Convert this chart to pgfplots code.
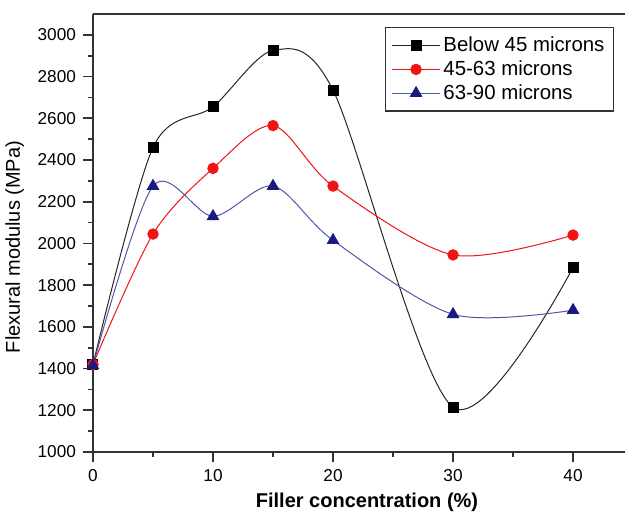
\documentclass[border=0pt]{standalone}
\usepackage{pgfplots}
\pgfplotsset{compat=1.18}
\usepackage{fontspec}
\setmainfont{Liberation Sans}
\definecolor{navy}{RGB}{25,25,130}
\definecolor{navyline}{RGB}{85,85,165}
\definecolor{myred}{RGB}{240,20,20}
\begin{document}
\begin{tikzpicture}
\begin{axis}[
  scale only axis, width=266pt, height=219pt,
  xmin=0, xmax=44.33, ymin=1000, ymax=3100,
  axis x line*=box, axis y line*=left,
  axis line style={line width=1pt, draw=black!80},
  xtick={0,10,...,40}, minor xtick={5,15,25,35},
  ytick={1000,1200,...,3000}, minor ytick={1100,1300,...,2900},
  tick align=outside, xtick pos=bottom, ytick pos=left,
  major tick length=5pt, minor tick length=2.5pt,
  every tick/.style={line width=0.8pt, black!80},
  /pgf/number format/assume math mode=true,
  /pgf/number format/1000 sep={},
  tick label style={font=\fontsize{8.6}{10}\selectfont},
  xlabel={\bfseries Filler concentration (\%)},
  xlabel style={font=\fontsize{10}{11}\selectfont, yshift=1pt, xshift=4pt},
  ylabel={Flexural modulus (MPa)},
  ylabel style={font=\fontsize{10}{11}\selectfont, at={(ticklabel cs:0.468)}},
  legend style={at={(0.549,0.97)}, anchor=north west, draw=black!80, line width=0.6pt,
    font=\fontsize{10.2}{11.5}\selectfont, row sep=-1pt, inner xsep=3pt, inner ysep=2.5pt,
    nodes={inner xsep=1.5pt}},
  legend image code/.code={\draw[mark repeat=2,mark phase=2] plot coordinates {(0cm,0cm) (0.42cm,0cm) (0.84cm,0cm)};},
  legend cell align=left,
]
\addplot[black!85, line width=0.5pt, smooth, mark=square*, mark size=2.5pt,
  mark options={fill=black, draw=black}] coordinates {
  (0,1420) (5,2460) (10,2655) (15,2925) (20,2735) (30,1215) (40,1885)};
\addlegendentry{Below 45 microns}
\addplot[myred, line width=0.5pt, smooth, mark=*, mark size=2.6pt,
  mark options={fill=myred, draw=myred}] coordinates {
  (0,1420) (5,2045) (10,2360) (15,2565) (20,2275) (30,1945) (40,2040)};
\addlegendentry{45-63 microns}
\addplot[navyline, line width=0.5pt, smooth, mark=triangle*, mark size=3.2pt,
  mark options={fill=navy, draw=navy}] coordinates {
  (0,1415) (5,2275) (10,2130) (15,2275) (20,2015) (30,1660) (40,1680)};
\addlegendentry{63-90 microns}
\end{axis}
\pgfresetboundingbox
\path ([xshift=-46.5pt,yshift=-31.5pt]current axis.south west) rectangle ([yshift=7pt]current axis.north east);
\end{tikzpicture}
\end{document}
